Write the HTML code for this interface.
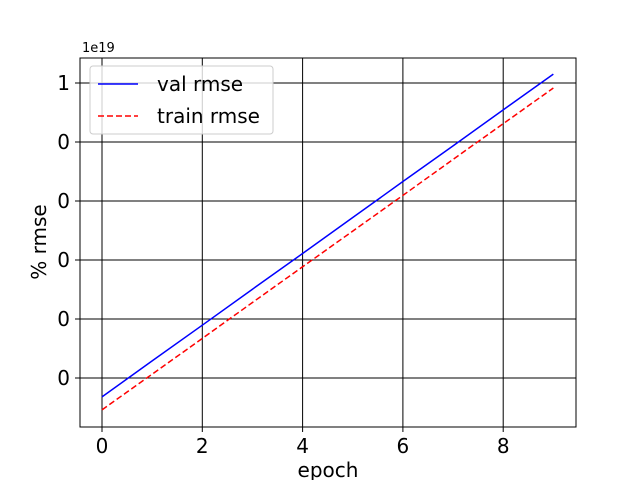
<!DOCTYPE html>
<html><head><meta charset="utf-8"><style>body{margin:0;background:#fff}svg{display:block;font-family:"DejaVu Sans","Liberation Sans",sans-serif}</style></head>
<body>
<svg id="chart" width="640" height="480"></svg>
<script>
const epochs=[0,1,2,3,4,5,6,7,8,9];
const valRmse=[-0.064,0.058,0.179,0.301,0.422,0.544,0.666,0.787,0.909,1.030];
const trainRmse=[-0.108,0.013,0.134,0.256,0.377,0.498,0.619,0.741,0.862,0.983];
const xTicks=[0,2,4,6,8];
const yTicks=[0,0.2,0.4,0.6,0.8,1.0];
const yTickLabels=["0","0","0","0","0","1"];
const NS="http://www.w3.org/2000/svg";
const svg=document.getElementById('chart');
const L=80,R=576,T=58,B=427;
const xs=v=>102+v*50.15;
const ys=v=>378-v*295;
function el(t,a,p){const e=document.createElementNS(NS,t);for(const k in a)e.setAttribute(k,a[k]);(p||svg).appendChild(e);return e;}
xTicks.forEach((v,i)=>{
 const g=el('line',{x1:xs(v),x2:xs(v),y1:T,y2:B+5,stroke:'#000','stroke-width':1});
 
 
 const t=el('text',{x:xs(v),y:453,'font-size':20,'text-anchor':'middle'});t.textContent=v;
 
 
});
yTicks.forEach((v,i)=>{
 const g=el('line',{x1:L-5,x2:R,y1:ys(v),y2:ys(v),stroke:'#000','stroke-width':1});
 
 
 const t=el('text',{x:70,y:ys(v)+7,'font-size':20,'text-anchor':'end'});t.textContent=yTickLabels[i];
 
 
});
const fr=el('rect',{x:L,y:T,width:R-L,height:B-T,fill:'none',stroke:'#000','stroke-width':1});


const vl=el('polyline',{points:epochs.map((e,i)=>xs(e)+','+ys(valRmse[i])).join(' '),fill:'none',stroke:'#0000ff','stroke-width':1.5});


const tl=el('polyline',{points:epochs.map((e,i)=>xs(e)+','+ys(trainRmse[i])).join(' '),fill:'none',stroke:'#ff0000','stroke-width':1.5,'stroke-dasharray':'6,3'});


const off=el('text',{x:82,y:52,'font-size':13});off.textContent='1e19';


const xl=el('text',{x:328,y:477,'font-size':20,'text-anchor':'middle'});xl.textContent='epoch';


const yl=el('text',{x:0,y:0,'font-size':20,'text-anchor':'middle',transform:'translate(46,242) rotate(-90)'});yl.textContent='% rmse';


const lg=el('g',{});


el('rect',{x:90,y:66,width:183,height:68,rx:3,fill:'#fff','fill-opacity':0.8,stroke:'#ccc'},lg);
el('line',{x1:98,x2:138,y1:84,y2:84,stroke:'#0000ff','stroke-width':1.5},lg);
const t1=el('text',{x:157,y:91,'font-size':20},lg);t1.textContent='val rmse';


el('line',{x1:98,x2:138,y1:116,y2:116,stroke:'#ff0000','stroke-width':1.5,'stroke-dasharray':'6,3'},lg);
const t2=el('text',{x:157,y:123,'font-size':20},lg);t2.textContent='train rmse';


</script>
</body></html>
